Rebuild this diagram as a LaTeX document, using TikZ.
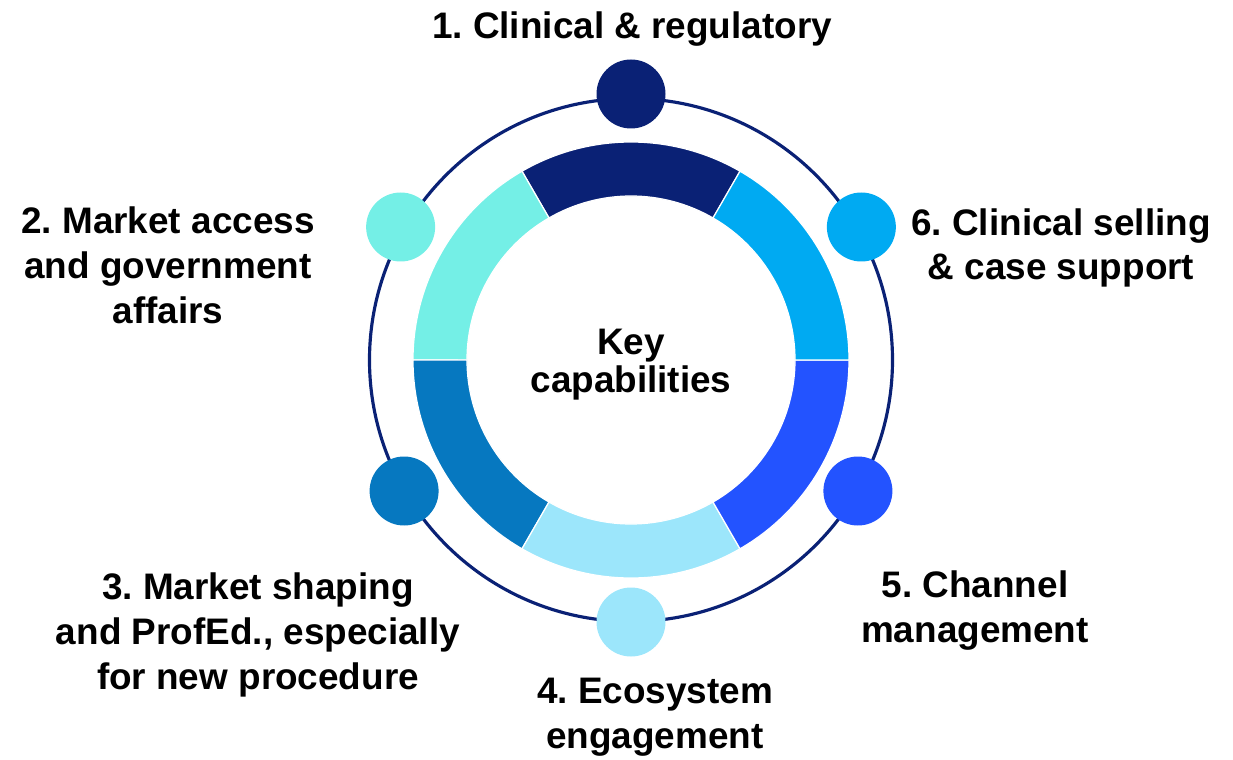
\documentclass[tikz,border=0pt]{standalone}
\usepackage{fontspec}
\setmainfont{Liberation Sans}
\usetikzlibrary{positioning}
\frenchspacing

\definecolor{capnavy}{HTML}{0A2175}
\definecolor{capturq}{HTML}{74EFE6}
\definecolor{capmid}{HTML}{0678C0}
\definecolor{caplight}{HTML}{9CE6FB}
\definecolor{caproyal}{HTML}{2353FF}
\definecolor{capsky}{HTML}{00AAF2}

\begin{document}
\begin{tikzpicture}[
    dot/.style={circle, fill=#1, minimum size=6.9mm, inner sep=0pt},
    seg/.style={fill=#1, draw=white, line width=0.35pt},
    lbl/.style={font=\fontsize{10.5}{12.8}\selectfont\bfseries, align=center, anchor=base}
]
    \useasboundingbox (-6.31,-3.99) rectangle (6.02,3.60);

    % Outer ring
    \draw[color=capnavy, line width=0.9pt] (0,0) circle (2.615);

    % Inner ring, one segment per capability
    \filldraw[seg=capnavy]  (60:2.18) arc (60:120:2.18) -- (120:1.64) arc (120:60:1.64) -- cycle;
    \filldraw[seg=capturq]  (120:2.18) arc (120:180:2.18) -- (180:1.64) arc (180:120:1.64) -- cycle;
    \filldraw[seg=capmid]   (180:2.18) arc (180:240:2.18) -- (240:1.64) arc (240:180:1.64) -- cycle;
    \filldraw[seg=caplight] (240:2.18) arc (240:300:2.18) -- (300:1.64) arc (300:240:1.64) -- cycle;
    \filldraw[seg=caproyal] (300:2.18) arc (300:360:2.18) -- (0:1.64) arc (360:300:1.64) -- cycle;
    \filldraw[seg=capsky]   (0:2.18) arc (0:60:2.18) -- (60:1.64) arc (60:0:1.64) -- cycle;

    % Dots on the outer ring
    \node[dot=capnavy]  (d1) at (90:2.66) {};
    \node[dot=capturq]  (d2) at (150:2.66) {};
    \node[dot=capmid]   (d3) at (210:2.62) {};
    \node[dot=caplight] (d4) at (270:2.62) {};
    \node[dot=caproyal] (d5) at (330:2.62) {};
    \node[dot=capsky]   (d6) at (30:2.66) {};

    % Centre text (base anchor sits on the last line)
    \node[lbl, font=\fontsize{10.5}{10.8}\selectfont\bfseries] (key) at (0,-0.32) {Key\\capabilities};

    % Labels
    \node[lbl] (l1) at (0.01,3.21) {1. Clinical \& regulatory};
    \node[lbl] (l2) at (-4.63,0.37) {2. Market access\\and government\\affairs};
    \node[lbl] (l3) at (-3.73,-3.29) {3. Market shaping\\and ProfEd., especially\\for new procedure};
    \node[lbl] (l4) at (0.24,-3.88) {4. Ecosystem\\engagement};
    \node[lbl] (l5) at (3.44,-2.82) {5. Channel\\management};
    \node[lbl] (l6) at (4.30,0.80) {6. Clinical selling\\\& case support};

\end{tikzpicture}
\end{document}
